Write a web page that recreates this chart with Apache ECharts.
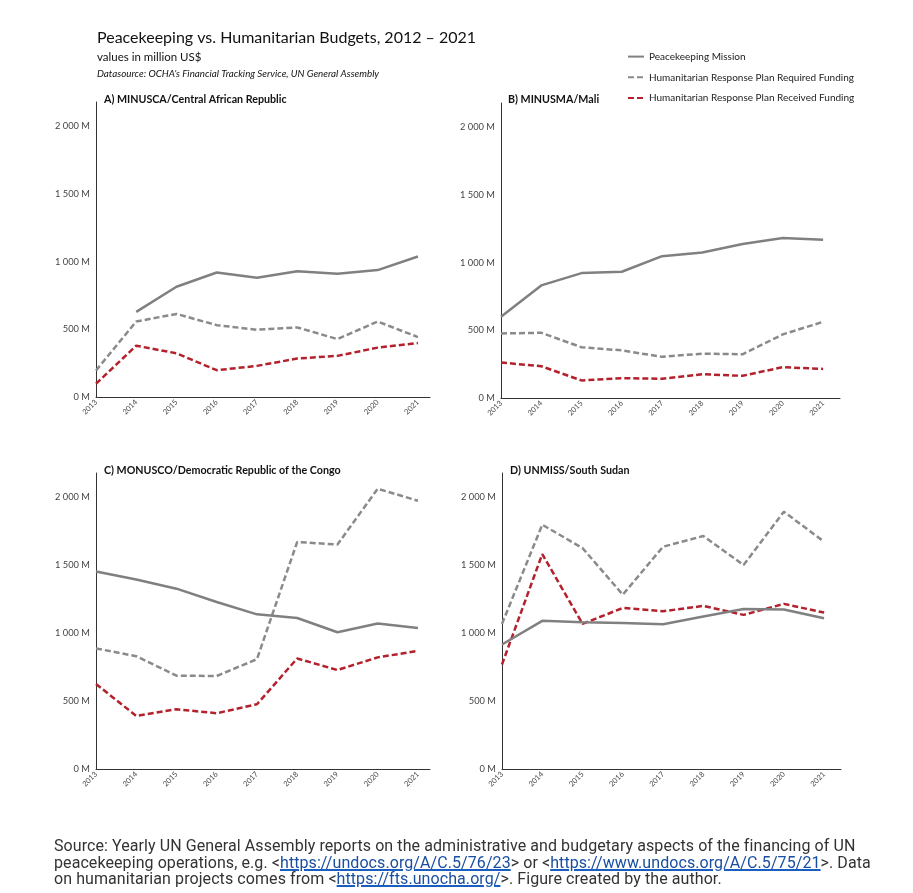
<!DOCTYPE html>
<html>
<head>
<meta charset="utf-8">
<script src="https://cdn.jsdelivr.net/npm/echarts@6/dist/echarts.min.js"></script>
<style>
  html, body { margin: 0; padding: 0; background: #fff; }
  #chart { position: absolute; left: 0; top: 0; width: 913px; height: 893px; }
  #footer { position: absolute; left: 54px; top: 838px; font-family: Roboto, sans-serif; font-size: 16px; letter-spacing: 0.08px; line-height: 16.6px; color: #333; white-space: nowrap; }
  #footer a { color: #1a4fa0; text-decoration: underline; text-decoration-color: #1a5fc0; text-decoration-thickness: 2px; }
</style>
</head>
<body>
<div id="chart"></div>
<div id="footer">Source: Yearly UN General Assembly reports on the administrative and budgetary aspects of the financing of UN<br>peacekeeping operations, e.g. &lt;<a>https://undocs.org/A/C.5/76/23</a>&gt; or &lt;<a>https://www.undocs.org/A/C.5/75/21</a>&gt;. Data<br>on humanitarian projects comes from &lt;<a>https://fts.unocha.org/</a>&gt;. Figure created by the author.</div>
<script>
// ---- data (million US$) ----
const years = [2013, 2014, 2015, 2016, 2017, 2018, 2019, 2020, 2021];
const seriesNames = ['Peacekeeping Mission', 'Humanitarian Response Plan Required Funding', 'Humanitarian Response Plan Received Funding'];
const panelTitles = ['A) MINUSCA/Central African Republic', 'B) MINUSMA/Mali', 'C) MONUSCO/Democratic Republic of the Congo', 'D) UNMISS/South Sudan'];
const yTicks = [0, 500, 1000, 1500, 2000];

const carPeacekeeping = [null, 629, 815, 920, 881, 930, 911, 938, 1038];
const carRequired     = [196, 558, 614, 531, 497, 514, 428, 558, 443];
const carReceived     = [98, 379, 323, 198, 230, 284, 304, 365, 399];

const maliPeacekeeping = [600, 832, 923, 933, 1048, 1075, 1138, 1182, 1170];
const maliRequired     = [477, 482, 375, 352, 304, 328, 323, 470, 563];
const maliReceived     = [262, 235, 130, 147, 142, 176, 164, 228, 215];

const drcPeacekeeping = [1455, 1396, 1328, 1230, 1139, 1112, 1007, 1071, 1039];
const drcRequired     = [888, 831, 687, 685, 809, 1672, 1653, 2064, 1976];
const drcReceived     = [626, 391, 440, 411, 477, 814, 729, 822, 870];

const ssdPeacekeeping = [917, 1091, 1081, 1076, 1066, 1123, 1179, 1174, 1110];
const ssdRequired     = [1069, 1799, 1627, 1284, 1637, 1716, 1502, 1895, 1674];
const ssdReceived     = [770, 1583, 1069, 1186, 1162, 1201, 1135, 1216, 1152];

const panels = [
  [carPeacekeeping, carRequired, carReceived],
  [maliPeacekeeping, maliRequired, maliReceived],
  [drcPeacekeeping, drcRequired, drcReceived],
  [ssdPeacekeeping, ssdRequired, ssdReceived]
];

// ---- layout / style ----
const FONT = 'Lato, "Noto Sans", sans-serif';
const grids = [
  { left: 96, top: 102, width: 334, height: 295 },
  { left: 501, top: 103, width: 339, height: 295 },
  { left: 96, top: 473, width: 334, height: 296 },
  { left: 502, top: 473, width: 339, height: 296 }
];
const xMax = [2021.3, 2021.42, 2021.3, 2021.42];
const titlePos = [[104, 94], [508, 94], [104, 465], [510, 465]];
const styles = [
  { color: '#808080', type: 'solid' },
  { color: '#8a8a8a', type: [6, 3] },
  { color: '#b3212c', type: [6, 3] }
];

function fmtY(v) {
  if (yTicks.indexOf(v) < 0) return '';
  if (v === 0) return '0 M';
  if (v >= 1000) {
    const th = Math.floor(v / 1000), rest = String(v % 1000).padStart(3, '0');
    return th + ' ' + rest + ' M';
  }
  return v + ' M';
}

const xAxes = [], yAxes = [], series = [], titles = [];
titles.push({ text: 'Peacekeeping vs. Humanitarian Budgets, 2012 \u2013 2021', left: 97, top: 30, padding: 0,
  textStyle: { fontFamily: FONT, fontSize: 16, fontWeight: 'normal', color: '#111' } });
titles.push({ text: 'values in million US$', left: 97, top: 51, padding: 0,
  textStyle: { fontFamily: FONT, fontSize: 11.5, fontWeight: 'normal', color: '#111' } });
titles.push({ text: 'Datasource: OCHA\u2019s Financial Tracking Service, UN General Assembly', left: 97, top: 69, padding: 0,
  textStyle: { fontFamily: FONT, fontSize: 9.8, fontStyle: 'italic', fontWeight: 'normal', color: '#111' } });

grids.forEach((g, i) => {
  titles.push({ text: panelTitles[i], left: titlePos[i][0], top: titlePos[i][1], padding: 0,
    textStyle: { fontFamily: FONT, fontSize: 10.7, fontWeight: 'bold', color: '#111' } });
  xAxes.push({
    type: 'value', gridIndex: i, min: 2013, max: xMax[i], interval: 1,
    splitLine: { show: false },
    axisTick: { show: false },
    axisLine: { lineStyle: { color: '#333', width: 1 } },
    axisLabel: { rotate: 45, fontSize: 7.5, color: '#444', fontFamily: FONT, margin: 4,
      showMaxLabel: false,
      formatter: v => Number.isInteger(v) ? String(v) : '' }
  });
  yAxes.push({
    type: 'value', gridIndex: i, min: 0, max: 2180, interval: 500,
    splitLine: { show: false },
    axisTick: { show: false },
    axisLine: { show: true, lineStyle: { color: '#333', width: 1 } },
    axisLabel: { fontSize: 9.3, color: '#444', fontFamily: FONT, margin: 6, showMaxLabel: false, formatter: fmtY }
  });
  panels[i].forEach((arr, k) => {
    series.push({
      type: 'line', name: seriesNames[k], xAxisIndex: i, yAxisIndex: i,
      data: years.map((yr, j) => [yr, arr[j] === null ? '-' : arr[j]]),
      showSymbol: false, symbol: 'none', smooth: false, z: 3 - k,
      lineStyle: { color: styles[k].color, type: styles[k].type, width: 2.5 },
      itemStyle: { color: styles[k].color }
    });
  });
});

const chart = echarts.init(document.getElementById('chart'), null, { renderer: 'canvas' });
chart.setOption({
  backgroundColor: '#fff',
  animation: false,
  title: titles,
  grid: grids,
  xAxis: xAxes,
  yAxis: yAxes,
  legend: {
    data: seriesNames, orient: 'vertical', left: 627, top: 51, padding: 0,
    itemWidth: 16, itemHeight: 14, itemGap: 9.5,
    itemStyle: { opacity: 0 },
    textStyle: { fontFamily: FONT, fontSize: 10, color: '#222' }
  },
  series: series
});
</script>
</body>
</html>
